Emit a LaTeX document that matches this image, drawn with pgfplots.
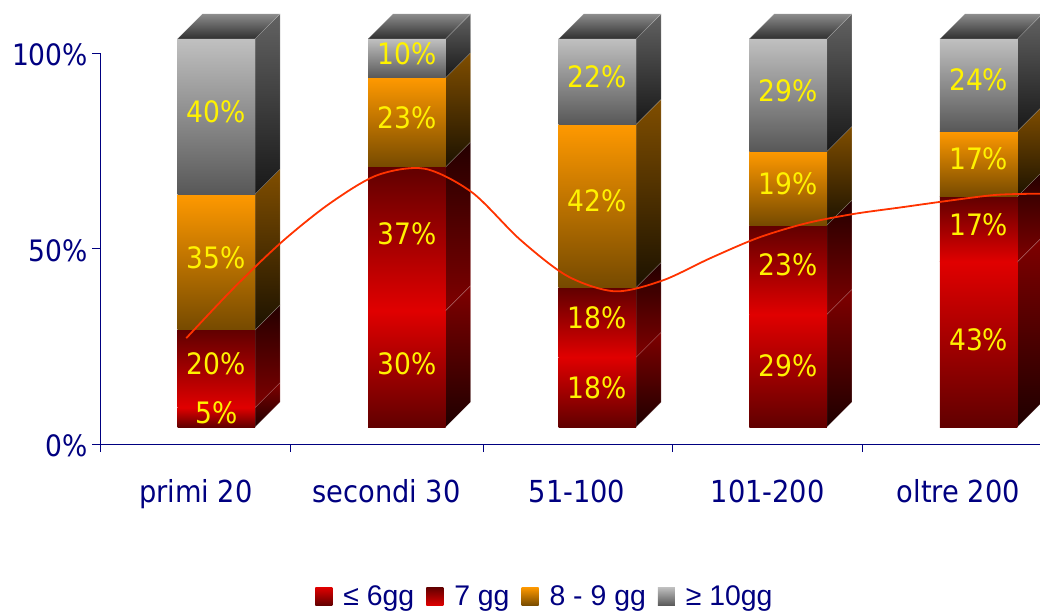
\documentclass[border=0pt]{standalone}
\usepackage{fontspec}
\setmainfont{DejaVu Sans Condensed}
\newfontfamily\legendfont{Liberation Sans}
\usepackage{pgfplots}
\pgfplotsset{compat=1.18}

\definecolor{navy}{HTML}{000080}
\definecolor{curve}{HTML}{FF3300}

% Front and side shadings of each stacked class
\tikzset{
  lowF/.style={top color=red!88!black, bottom color=red!38!black},
  lowS/.style={top color=red!50!black, bottom color=red!12!black},
  midF/.style={top color=red!38!black, bottom color=red!88!black},
  midS/.style={top color=red!14!black, bottom color=red!50!black},
  oraF/.style={top color={rgb,255:red,255;green,153;blue,0}, bottom color={rgb,255:red,118;green,74;blue,0}},
  oraS/.style={top color={rgb,255:red,128;green,78;blue,0}, bottom color={rgb,255:red,28;green,18;blue,0}},
  graF/.style={top color={rgb,255:red,192;green,192;blue,192}, bottom color={rgb,255:red,88;green,88;blue,88}},
  graS/.style={top color={rgb,255:red,98;green,98;blue,98}, bottom color={rgb,255:red,24;green,24;blue,24}},
  capT/.style={top color={rgb,255:red,140;green,140;blue,140}, bottom color={rgb,255:red,48;green,48;blue,48}},
  edge/.style={draw=white, draw opacity=0.25, line width=0.5pt},
  valfont/.style={font=\fontsize{29.5}{32}\selectfont},
}

% Shares per column: index, then the four classes from the bottom up
\newcommand{\allcolumns}[1]{%
  #1{0}{5}{20}{35}{40}%
  #1{1}{30}{37}{23}{10}%
  #1{2}{18}{18}{42}{22}%
  #1{3}{29}{23}{19}{29}%
  #1{4}{43}{17}{17}{24}%
}

% Faces of one block: index, lower and upper cumulated value, column total, class
\newcommand{\block}[5]{%
  \pgfmathsetmacro\xa{#1-0.096}%
  \pgfmathsetmacro\xb{#1+0.3106}%
  \pgfmathsetmacro\xc{#1+0.4418}%
  \pgfmathsetmacro\ya{4.35+99.4*#2/#4}%
  \pgfmathsetmacro\yb{4.35+99.4*#3/#4}%
  \pgfmathsetmacro\yc{\ya+6.4}%
  \pgfmathsetmacro\yd{\yb+6.4}%
  \edef\drawblock{%
    \noexpand\addplot[forget plot, edge, #5S] coordinates {(\xb,\ya)(\xc,\yc)(\xc,\yd)(\xb,\yb)} -- cycle;
    \noexpand\addplot[forget plot, draw=none, #5F] coordinates {(\xa,\ya)(\xb,\ya)(\xb,\yb)(\xa,\yb)} -- cycle;
  }%
  \drawblock
}

% Value printed in the middle of a block
\newcommand{\blockvalue}[5]{%
  \pgfmathsetmacro\xm{#1+0.1073}%
  \pgfmathsetmacro\ym{4.35+99.4*(0.5*#2+0.5*#3)/#4}%
  \edef\drawvalue{%
    \noexpand\node[anchor=base, text=yellow, yshift=-6pt, inner sep=0pt, valfont] at (axis cs:\xm,\ym) {#5\noexpand\%};
  }%
  \drawvalue
}

% A whole column with its top face
\newcommand{\column}[5]{%
  \pgfmathsetmacro\tot{#2+#3+#4+#5}%
  \pgfmathsetmacro\cA{#2}%
  \pgfmathsetmacro\cB{#2+#3}%
  \pgfmathsetmacro\cC{#2+#3+#4}%
  \block{#1}{0}{\cA}{\tot}{low}%
  \block{#1}{\cA}{\cB}{\tot}{mid}%
  \block{#1}{\cB}{\cC}{\tot}{ora}%
  \block{#1}{\cC}{\tot}{\tot}{gra}%
  \pgfmathsetmacro\xa{#1-0.096}%
  \pgfmathsetmacro\xb{#1+0.3106}%
  \pgfmathsetmacro\xc{#1+0.4418}%
  \pgfmathsetmacro\xd{#1+0.0352}%
  \edef\drawcap{%
    \noexpand\addplot[forget plot, edge, capT] coordinates {(\xa,103.75)(\xb,103.75)(\xc,110.15)(\xd,110.15)} -- cycle;
  }%
  \drawcap
}

% The four values of a column
\newcommand{\columnvalues}[5]{%
  \pgfmathsetmacro\tot{#2+#3+#4+#5}%
  \pgfmathsetmacro\cA{#2}%
  \pgfmathsetmacro\cB{#2+#3}%
  \pgfmathsetmacro\cC{#2+#3+#4}%
  \blockvalue{#1}{0}{\cA}{\tot}{#2}%
  \blockvalue{#1}{\cA}{\cB}{\tot}{#3}%
  \blockvalue{#1}{\cB}{\cC}{\tot}{#4}%
  \blockvalue{#1}{\cC}{\tot}{\tot}{#5}%
}

\newcommand{\swatch}[1]{%
  \addlegendimage{legend image code/.code={\path[draw=none, #1] (0pt,-9.5pt) rectangle (17pt,9pt);}}%
}

\begin{document}
\begin{tikzpicture}[x=1pt,y=1pt]
\useasboundingbox (0,0) rectangle (1040,611);
\begin{axis}[
  at={(100.5pt,167pt)}, anchor=south west,
  scale only axis, width=939.5pt, height=390.5pt,
  xmin=-0.5, xmax=4.429, ymin=0, ymax=100,
  clip=false,
  axis x line*=bottom, axis y line*=left,
  axis line style={navy, line width=1pt, -},
  xtick={0,1,2,3,4},
  xticklabels={primi 20,secondi 30,51-100,101-200,oltre 200},
  minor xtick={-0.5,0.497,1.508,2.5,3.497},
  ytick={0,50,100},
  yticklabels={0\%,50\%,100\%},
  xtick style={draw=none},
  minor x tick style={draw=navy, line width=1pt},
  ytick style={draw=navy, line width=1pt},
  major tick length=8pt, minor tick length=8pt,
  tick align=outside,
  every tick label/.append style={text=navy},
  x tick label style={anchor=base, yshift=-50pt, font=\fontsize{30.3}{32}\selectfont},
  y tick label style={anchor=base east, xshift=-1pt, yshift=-12.5pt, font=\fontsize{29.5}{32}\selectfont},
  legend columns=4,
  legend cell align=left,
  legend style={
    at={(0.4731,-0.3895)}, anchor=center,
    draw=none, fill=none, inner sep=0pt,
    font=\legendfont\fontsize{28.4}{30}\selectfont, text=navy,
    /tikz/every odd column/.append style={column sep=9pt},
    /tikz/every even column/.append style={column sep=10pt},
  },
]
\allcolumns\column

% Smoothed overlay curve
\addplot[forget plot, smooth, curve, line width=1.8pt, no markers] coordinates {
  (-0.05,27.1)(0.2,40.0)(0.45,51.7)(0.7,61.5)(0.95,68.8)(1.2,70.5)(1.45,64.4)
  (1.7,52.4)(1.95,43.0)(2.2,39.1)(2.45,41.9)(2.7,47.6)(2.95,52.8)(3.2,56.5)
  (3.45,58.9)(3.7,60.6)(3.95,62.3)(4.2,63.8)(4.429,64.1)
};

\allcolumns\columnvalues

\swatch{top color=red!88!black, bottom color=red!38!black}
\addlegendentry{≤ 6gg}
\swatch{top color=red!38!black, bottom color=red!88!black}
\addlegendentry{7 gg}
\swatch{oraF}
\addlegendentry{8 - 9 gg}
\swatch{graF}
\addlegendentry{≥ 10gg}
\end{axis}
\end{tikzpicture}
\end{document}
